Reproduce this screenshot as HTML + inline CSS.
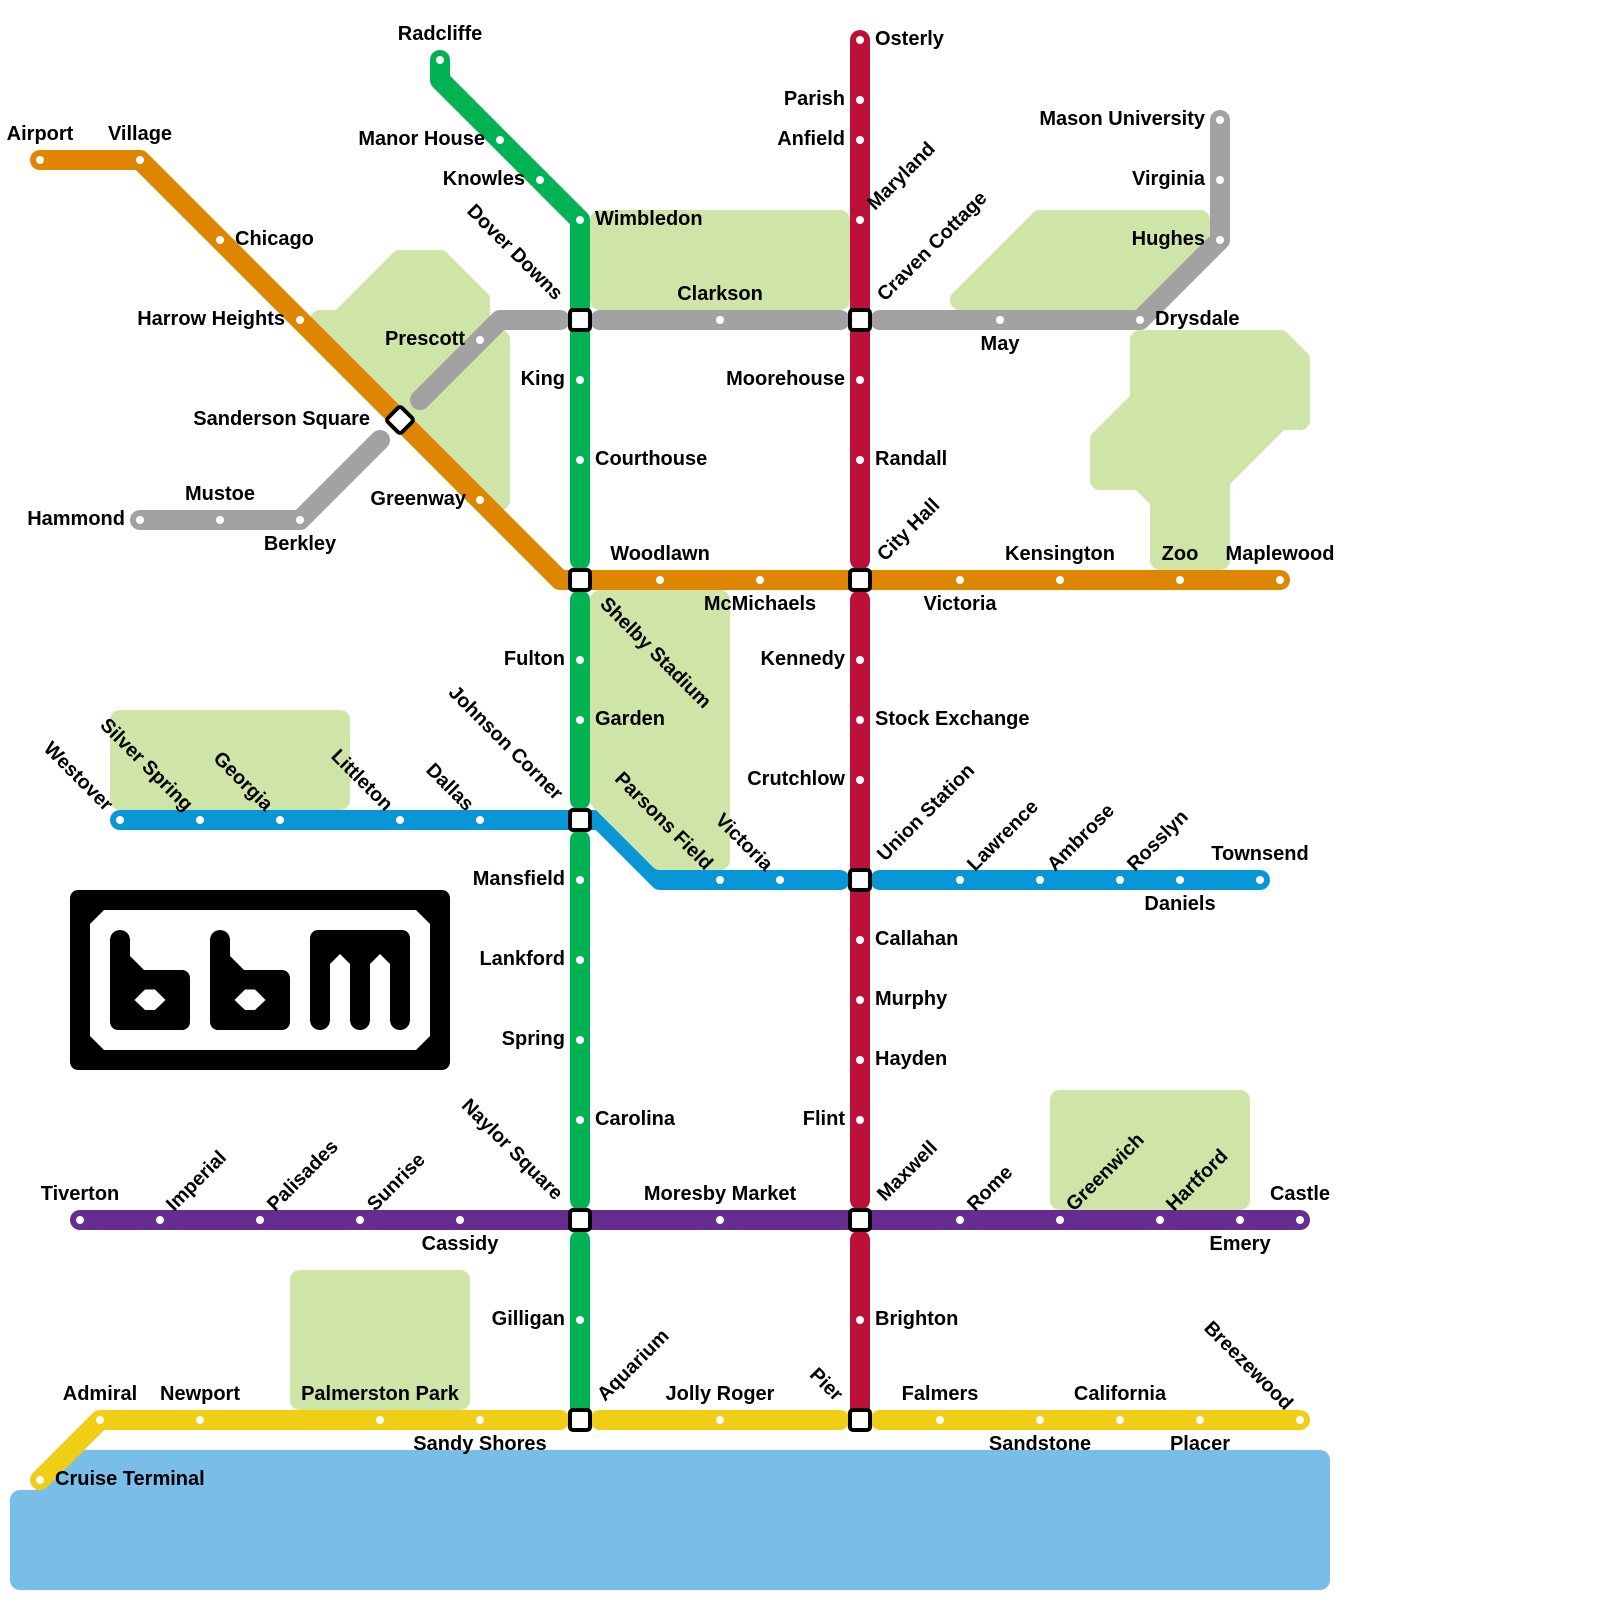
<!DOCTYPE html>
<html><head><meta charset="utf-8"><style>
html,body{margin:0;padding:0;background:#fff}
svg{display:block}
text{font:bold 20px "Liberation Sans",sans-serif;fill:#000}
.m{text-anchor:middle}.e{text-anchor:end}
.r text{font-size:19.7px}
.l{fill:none;stroke-width:20;stroke-linecap:round;stroke-linejoin:round}
.p{fill:#cfe4a7;stroke:#cfe4a7;stroke-width:20;stroke-linejoin:round}
.w{fill:#79bde9;stroke:#79bde9;stroke-width:20;stroke-linejoin:round}
.s{fill:#fff;stroke:#000;stroke-width:4}
</style></head><body>
<svg width="1600" height="1600" viewBox="0 0 1600 1600" xmlns="http://www.w3.org/2000/svg">
<rect width="1600" height="1600" fill="#fff"/>
<!-- parks and water -->
<polygon class="p" points="600,220 840,220 840,300 600,300"/>
<polygon class="p" points="960,300 1040,220 1200,220 1200,232 1132,300"/>
<polygon class="p" points="1140,340 1280,340 1300,360 1300,420 1280,420 1220,480 1220,560 1160,560 1160,500 1140,480 1100,480 1100,440 1140,400"/>
<polygon class="p" points="320,320 340,320 400,260 440,260 480,300 480,320 500,340 500,500"/>
<rect class="p" x="120" y="720" width="220" height="80"/>
<rect class="p" x="300" y="1280" width="160" height="120"/>
<rect class="p" x="1060" y="1100" width="180" height="100"/>
<polygon class="w" points="20,1500 40,1500 80,1460 1320,1460 1320,1580 20,1580"/>
<!-- lines -->
<path class="l" stroke="#00b251" d="M440,60V80L580,220V560M580,600V800M580,840V1200M580,1240V1420"/>
<path class="l" stroke="#bd1038" d="M860,40V560M860,600V1200M860,1240V1420"/>
<path class="l" stroke="#a2a2a2" d="M420,400L500,320H560M600,320H840M880,320H1140L1220,240V120M140,520H300L380,440"/>
<path class="l" stroke="#df8600" d="M40,160H140L560,580H1280"/>
<path class="l" stroke="#0896d7" d="M120,820H600L660,880H840M880,880H1260"/>
<path class="l" stroke="#662c90" d="M80,1220H1300"/>
<path class="l" stroke="#f0ce15" d="M40,1480L100,1420H560M600,1420H840M880,1420H1300"/>
<!-- this park sits above the blue diagonal -->
<polygon class="p" points="600,600 720,600 720,860 660,860 600,800"/>
<!-- station dots -->
<g fill="#fff">
<circle cx="40" cy="160" r="4"/><circle cx="140" cy="160" r="4"/><circle cx="220" cy="240" r="4"/><circle cx="300" cy="320" r="4"/><circle cx="480" cy="500" r="4"/><circle cx="660" cy="580" r="4"/><circle cx="760" cy="580" r="4"/><circle cx="960" cy="580" r="4"/><circle cx="1060" cy="580" r="4"/><circle cx="1180" cy="580" r="4"/><circle cx="1280" cy="580" r="4"/>
<circle cx="440" cy="60" r="4"/><circle cx="500" cy="140" r="4"/><circle cx="540" cy="180" r="4"/><circle cx="580" cy="220" r="4"/><circle cx="580" cy="380" r="4"/><circle cx="580" cy="460" r="4"/><circle cx="580" cy="660" r="4"/><circle cx="580" cy="720" r="4"/><circle cx="580" cy="880" r="4"/><circle cx="580" cy="960" r="4"/><circle cx="580" cy="1040" r="4"/><circle cx="580" cy="1120" r="4"/><circle cx="580" cy="1320" r="4"/>
<circle cx="860" cy="40" r="4"/><circle cx="860" cy="100" r="4"/><circle cx="860" cy="140" r="4"/><circle cx="860" cy="220" r="4"/><circle cx="860" cy="380" r="4"/><circle cx="860" cy="460" r="4"/><circle cx="860" cy="660" r="4"/><circle cx="860" cy="720" r="4"/><circle cx="860" cy="780" r="4"/><circle cx="860" cy="940" r="4"/><circle cx="860" cy="1000" r="4"/><circle cx="860" cy="1060" r="4"/><circle cx="860" cy="1120" r="4"/><circle cx="860" cy="1320" r="4"/>
<circle cx="480" cy="340" r="4"/><circle cx="720" cy="320" r="4"/><circle cx="1000" cy="320" r="4"/><circle cx="1140" cy="320" r="4"/><circle cx="1220" cy="240" r="4"/><circle cx="1220" cy="180" r="4"/><circle cx="1220" cy="120" r="4"/><circle cx="140" cy="520" r="4"/><circle cx="220" cy="520" r="4"/><circle cx="300" cy="520" r="4"/>
<circle cx="120" cy="820" r="4"/><circle cx="200" cy="820" r="4"/><circle cx="280" cy="820" r="4"/><circle cx="400" cy="820" r="4"/><circle cx="480" cy="820" r="4"/><circle cx="720" cy="880" r="4"/><circle cx="780" cy="880" r="4"/><circle cx="960" cy="880" r="4"/><circle cx="1040" cy="880" r="4"/><circle cx="1120" cy="880" r="4"/><circle cx="1180" cy="880" r="4"/><circle cx="1260" cy="880" r="4"/>
<circle cx="80" cy="1220" r="4"/><circle cx="160" cy="1220" r="4"/><circle cx="260" cy="1220" r="4"/><circle cx="360" cy="1220" r="4"/><circle cx="460" cy="1220" r="4"/><circle cx="720" cy="1220" r="4"/><circle cx="960" cy="1220" r="4"/><circle cx="1060" cy="1220" r="4"/><circle cx="1160" cy="1220" r="4"/><circle cx="1240" cy="1220" r="4"/><circle cx="1300" cy="1220" r="4"/>
<circle cx="40" cy="1480" r="4"/><circle cx="100" cy="1420" r="4"/><circle cx="200" cy="1420" r="4"/><circle cx="380" cy="1420" r="4"/><circle cx="480" cy="1420" r="4"/><circle cx="720" cy="1420" r="4"/><circle cx="940" cy="1420" r="4"/><circle cx="1040" cy="1420" r="4"/><circle cx="1120" cy="1420" r="4"/><circle cx="1200" cy="1420" r="4"/><circle cx="1300" cy="1420" r="4"/>
</g>
<!-- interchanges -->
<rect class="s" x="570" y="310" width="20" height="20" rx="3"/><rect class="s" x="850" y="310" width="20" height="20" rx="3"/>
<rect class="s" x="570" y="570" width="20" height="20" rx="3"/><rect class="s" x="850" y="570" width="20" height="20" rx="3"/>
<rect class="s" x="570" y="810" width="20" height="20" rx="3"/><rect class="s" x="850" y="870" width="20" height="20" rx="3"/>
<rect class="s" x="570" y="1210" width="20" height="20" rx="3"/><rect class="s" x="850" y="1210" width="20" height="20" rx="3"/>
<rect class="s" x="570" y="1410" width="20" height="20" rx="3"/><rect class="s" x="850" y="1410" width="20" height="20" rx="3"/>
<rect class="s" x="390" y="410" width="20" height="20" rx="3" transform="rotate(45 400 420)"/>
<!-- logo -->
<rect x="70" y="890" width="380" height="180" rx="8" fill="#000"/>
<polygon fill="#fff" points="104,910 416,910 430,924 430,1036 416,1050 104,1050 90,1036 90,924"/>
<g fill="#000">
<path d="M110,940a10,10 0 0 1 20,0V956L144,970H182a8,8 0 0 1 8,8V1022a8,8 0 0 1 -8,8H118a8,8 0 0 1 -8,-8Z"/>
<path d="M210,940a10,10 0 0 1 20,0V956L244,970H282a8,8 0 0 1 8,8V1022a8,8 0 0 1 -8,8H218a8,8 0 0 1 -8,-8Z"/>
<path d="M318,930H402a8,8 0 0 1 8,8V1020a10,10 0 0 1 -20,0V964L380,954L370,964V1020a10,10 0 0 1 -20,0V964L340,954L330,964V1020a10,10 0 0 1 -20,0V938a8,8 0 0 1 8,-8Z"/>
</g>
<polygon fill="#fff" points="134.5,1000 145,989.5 155,989.5 165.5,1000 155,1010 145,1010"/>
<polygon fill="#fff" points="234.5,1000 245,989.5 255,989.5 265.5,1000 255,1010 245,1010"/>
<!-- horizontal labels -->
<text class="m" x="40" y="140">Airport</text><text class="m" x="140" y="140">Village</text><text x="235" y="245">Chicago</text>
<text class="e" x="285" y="325">Harrow Heights</text><text class="e" x="370" y="425">Sanderson Square</text><text class="e" x="466" y="505">Greenway</text><text class="e" x="465" y="345">Prescott</text>
<text class="m" x="440" y="40">Radcliffe</text><text class="e" x="485" y="145">Manor House</text><text class="e" x="525" y="185">Knowles</text><text x="595" y="225">Wimbledon</text>
<text class="e" x="565" y="385">King</text><text x="595" y="465">Courthouse</text><text class="e" x="565" y="665">Fulton</text><text x="595" y="725">Garden</text><text class="e" x="565" y="885">Mansfield</text><text class="e" x="565" y="965">Lankford</text><text class="e" x="565" y="1045">Spring</text><text x="595" y="1125">Carolina</text><text class="e" x="565" y="1325">Gilligan</text>
<text x="875" y="45">Osterly</text><text class="e" x="845" y="105">Parish</text><text class="e" x="845" y="145">Anfield</text><text class="e" x="845" y="385">Moorehouse</text><text x="875" y="465">Randall</text><text class="e" x="845" y="665">Kennedy</text><text x="875" y="725">Stock Exchange</text><text class="e" x="845" y="785">Crutchlow</text><text x="875" y="945">Callahan</text><text x="875" y="1005">Murphy</text><text x="875" y="1065">Hayden</text><text class="e" x="845" y="1125">Flint</text><text x="875" y="1325">Brighton</text>
<text class="m" x="720" y="300">Clarkson</text><text class="m" x="1000" y="350">May</text><text x="1155" y="325">Drysdale</text><text class="e" x="1205" y="245">Hughes</text><text class="e" x="1205" y="185">Virginia</text><text class="e" x="1205" y="125">Mason University</text>
<text class="e" x="125" y="525">Hammond</text><text class="m" x="220" y="500">Mustoe</text><text class="m" x="300" y="550">Berkley</text>
<text class="m" x="660" y="560">Woodlawn</text><text class="m" x="760" y="610">McMichaels</text><text class="m" x="960" y="610">Victoria</text><text class="m" x="1060" y="560">Kensington</text><text class="m" x="1180" y="560">Zoo</text><text class="m" x="1280" y="560">Maplewood</text>
<text class="m" x="1180" y="910">Daniels</text><text class="m" x="1260" y="860">Townsend</text>
<text class="m" x="80" y="1200">Tiverton</text><text class="m" x="460" y="1250">Cassidy</text><text class="m" x="720" y="1200">Moresby Market</text><text class="m" x="1240" y="1250">Emery</text><text class="m" x="1300" y="1200">Castle</text>
<text class="m" x="100" y="1400">Admiral</text><text class="m" x="200" y="1400">Newport</text><text class="m" x="380" y="1400">Palmerston Park</text><text class="m" x="480" y="1450">Sandy Shores</text><text class="m" x="720" y="1400">Jolly Roger</text><text class="m" x="940" y="1400">Falmers</text><text class="m" x="1040" y="1450">Sandstone</text><text class="m" x="1120" y="1400">California</text><text class="m" x="1200" y="1450">Placer</text><text x="55" y="1485">Cruise Terminal</text>
<g class="r">
<!-- up-right labels -->
<text transform="translate(875,211) rotate(-45)">Maryland</text>
<text transform="translate(885,302) rotate(-45)">Craven Cottage</text>
<text transform="translate(885,562) rotate(-45)">City Hall</text>
<text transform="translate(885,862) rotate(-45)">Union Station</text>
<text transform="translate(885,1202) rotate(-45)">Maxwell</text>
<text transform="translate(605,1402) rotate(-45)">Aquarium</text>
<text transform="translate(975,872) rotate(-45)">Lawrence</text>
<text transform="translate(1055,872) rotate(-45)">Ambrose</text>
<text transform="translate(1135,872) rotate(-45)">Rosslyn</text>
<text transform="translate(174,1212) rotate(-45)">Imperial</text>
<text transform="translate(275,1212) rotate(-45)">Palisades</text>
<text transform="translate(375,1212) rotate(-45)">Sunrise</text>
<text transform="translate(975,1212) rotate(-45)">Rome</text>
<text transform="translate(1074,1212) rotate(-45)">Greenwich</text>
<text transform="translate(1174,1212) rotate(-45)">Hartford</text>
<!-- up-left labels -->
<text class="e" transform="translate(555,301) rotate(45)">Dover Downs</text>
<text class="e" transform="translate(555,801) rotate(45)">Johnson Corner</text>
<text class="e" transform="translate(555,1201) rotate(45)">Naylor Square</text>
<text class="e" transform="translate(835,1402) rotate(45)">Pier</text>
<text class="e" transform="translate(105,812) rotate(45)">Westover</text>
<text class="e" transform="translate(185,812) rotate(45)">Silver Spring</text>
<text class="e" transform="translate(265,812) rotate(45)">Georgia</text>
<text class="e" transform="translate(385,812) rotate(45)">Littleton</text>
<text class="e" transform="translate(466,812) rotate(45)">Dallas</text>
<text class="e" transform="translate(705,871) rotate(45)">Parsons Field</text>
<text class="e" transform="translate(765,872) rotate(45)">Victoria</text>
<text class="e" transform="translate(1285,1411) rotate(45)">Breezewood</text>
<text transform="translate(599,605) rotate(45)">Shelby Stadium</text>
</g>
</svg>
</body></html>
